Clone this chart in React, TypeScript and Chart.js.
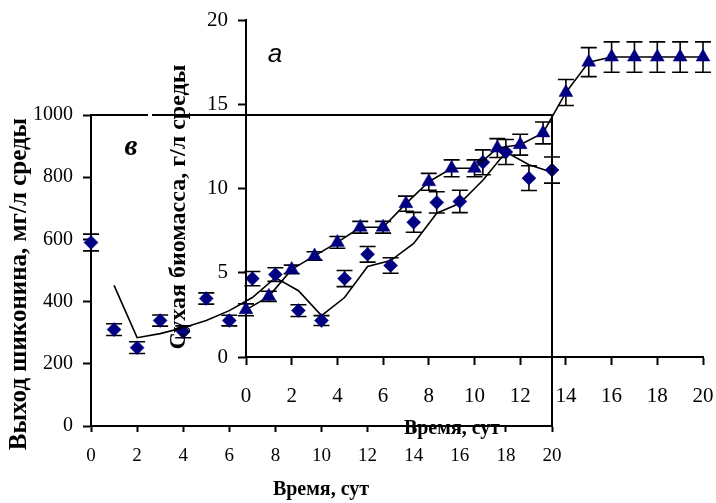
import React, { useEffect, useRef } from 'react';
import { Chart, registerables } from 'chart.js';

Chart.register(...registerables);

// ---- data ----
const days = [0, 1, 2, 3, 4, 5, 6, 7, 8, 9, 10, 11, 12, 13, 14, 15, 16, 17, 18, 19, 20];
// panel "в": shikonin yield, mg/l medium
const shikonin = [590, 310, 252, 339, 303, 410, 339, 474, 487, 371, 339, 474, 552, 516, 655, 719, 722, 848, 881, 797, 823];
const shikoninErr = [27, 19, 19, 18, 19, 18, 17, 23, 22, 19, 16, 26, 25, 25, 32, 34, 36, 40, 40, 40, 42];
const shikoninTrend = [null, 452, 284, 297, 316, 339, 371, 413, 477, 435, 355, 413, 513, 532, 587, 684, 716, 790, 881, 840, 816];
// panel "а": dry biomass, g/l medium
const biomass = [2.8, 3.6, 5.2, 6.0, 6.8, 7.7, 7.7, 9.1, 10.4, 11.2, 11.2, 12.4, 12.6, 13.3, 15.7, 17.5, 17.8, 17.8, 17.8, 17.8, 17.8];
const biomassErr = [0.35, 0.3, 0.25, 0.25, 0.35, 0.35, 0.35, 0.45, 0.5, 0.5, 0.5, 0.56, 0.62, 0.65, 0.77, 0.86, 0.9, 0.9, 0.9, 0.9, 0.9];
// ticks
const dayTicks = [0, 2, 4, 6, 8, 10, 12, 14, 16, 18, 20];
const shikoninTicks = [0, 200, 400, 600, 800, 1000];
const biomassTicks = [0, 5, 10, 15, 20];

const NAVY = '#000080';
const SERIF = "'Liberation Serif', 'Times New Roman', serif";
const SANS = "'Liberation Sans', Arial, sans-serif";

const errorBarPlugin = {
  id: 'errorBars',
  beforeDatasetsDraw(chart: any, _args: any, opts: any) {
    if (!opts || !opts.values) return;
    const { ctx } = chart;
    const xs = chart.scales.x;
    const ys = chart.scales.y;
    const cap = opts.cap ?? 8;
    ctx.save();
    ctx.strokeStyle = '#000';
    ctx.lineWidth = opts.lineWidth ?? 1.6;
    for (let i = 0; i < opts.values.length; i++) {
      const v = opts.values[i];
      const e = opts.errors[i];
      const px = xs.getPixelForValue(opts.xs[i]);
      const top = ys.getPixelForValue(v + e);
      const bot = ys.getPixelForValue(v - e);
      ctx.beginPath();
      ctx.moveTo(px, top);
      ctx.lineTo(px, bot);
      ctx.moveTo(px - cap, top);
      ctx.lineTo(px + cap, top);
      ctx.moveTo(px - cap, bot);
      ctx.lineTo(px + cap, bot);
      ctx.stroke();
    }
    ctx.restore();
  },
};

const framePlugin = {
  id: 'frame',
  afterDraw(chart: any, _args: any, opts: any) {
    if (!opts || !opts.show) return;
    const { ctx, chartArea: a } = chart;
    ctx.save();
    ctx.strokeStyle = '#000';
    ctx.lineWidth = 2;
    ctx.beginPath();
    const gap = opts.gap as number[] | undefined;
    if (gap) {
      ctx.moveTo(a.left - 1, a.top);
      ctx.lineTo(gap[0], a.top);
      ctx.moveTo(gap[1], a.top);
      ctx.lineTo(a.right, a.top);
    } else {
      ctx.moveTo(a.left - 1, a.top);
      ctx.lineTo(a.right, a.top);
    }
    ctx.moveTo(a.right, a.top - 1);
    ctx.lineTo(a.right, a.bottom);
    ctx.stroke();
    ctx.restore();
  },
};

const textPlugin = {
  id: 'texts',
  afterDraw(chart: any, _args: any, opts: any) {
    if (!opts || !opts.items) return;
    const { ctx } = chart;
    for (const it of opts.items) {
      ctx.save();
      ctx.font = it.font;
      ctx.fillStyle = '#000';
      ctx.textAlign = 'center';
      ctx.textBaseline = 'middle';
      ctx.translate(it.x, it.y);
      if (it.rotate) ctx.rotate(it.rotate);
      ctx.fillText(it.text, 0, 0);
      ctx.restore();
    }
  },
};

function noPad(s: any) {
  s.paddingLeft = 0;
  s.paddingRight = 0;
  s.paddingTop = 0;
  s.paddingBottom = 0;
}

function axisCommon(tickLength: number, fontSize: number, padding: number) {
  return {
    type: 'linear' as const,
    grid: {
      drawOnChartArea: false,
      drawTicks: true,
      tickLength,
      tickColor: '#000',
      tickWidth: 2,
    },
    border: { display: true, color: '#000', width: 2 },
    ticks: {
      color: '#000',
      padding,
      font: { family: SERIF, size: fontSize },
      callback: (v: any) => String(v),
    },
  };
}

export default function App() {
  const backRef = useRef<HTMLCanvasElement>(null);
  const frontRef = useRef<HTMLCanvasElement>(null);

  useEffect(() => {
    const back = new Chart(backRef.current as HTMLCanvasElement, {
      type: 'line',
      data: {
        datasets: [
          {
            label: 'Выход шиконина',
            data: days.map((d, i) => ({ x: d, y: shikonin[i] })),
            showLine: false,
            pointStyle: 'rectRot',
            pointRadius: 7,
            pointBackgroundColor: NAVY,
            pointBorderColor: NAVY,
            pointBorderWidth: 0.5,
            clip: false,
          },
          {
            label: 'тренд',
            data: days
              .map((d, i) => ({ x: d, y: shikoninTrend[i] }))
              .filter((p) => p.y !== null) as any,
            borderColor: '#000',
            borderWidth: 1.6,
            pointRadius: 0,
            tension: 0,
            fill: false,
            clip: false,
          },
        ],
      },
      options: {
        animation: false,
        responsive: false,
        devicePixelRatio: 1,
        layout: { padding: { left: 0, top: 115, right: 164, bottom: 0 } },
        plugins: {
          legend: { display: false },
          tooltip: { enabled: false },
          errorBars: { values: shikonin, errors: shikoninErr, xs: days, cap: 8 },
          frame: { show: true, gap: [148, 152] },
          texts: {
            items: [
              { text: 'Выход шиконина, мг/л среды', x: 20, y: 284, font: `bold 25px ${SERIF}`, rotate: -Math.PI / 2 },
              { text: 'Время, сут', x: 321, y: 490, font: `bold 20px ${SERIF}` },
              { text: 'в', x: 131, y: 148, font: `italic bold 29px ${SERIF}` },
            ],
          },
        } as any,
        scales: {
          x: {
            ...axisCommon(6, 19, 13),
            min: 0,
            max: 20,
            afterBuildTicks: (s: any) => {
              s.ticks = dayTicks.map((v) => ({ value: v }));
            },
            afterFit: (s: any) => {
              s.height = 77;
              noPad(s);
            },
          },
          y: {
            ...axisCommon(8, 20, 10),
            min: 0,
            max: 1000,
            afterBuildTicks: (s: any) => {
              s.ticks = shikoninTicks.map((v) => ({ value: v }));
            },
            afterFit: (s: any) => {
              s.width = 91;
              noPad(s);
            },
          },
        } as any,
      },
      plugins: [errorBarPlugin, framePlugin, textPlugin],
    });

    const front = new Chart(frontRef.current as HTMLCanvasElement, {
      type: 'line',
      data: {
        datasets: [
          {
            label: 'Сухая биомасса',
            data: days.map((d, i) => ({ x: d, y: biomass[i] })),
            borderColor: '#000',
            borderWidth: 1.6,
            pointStyle: 'triangle',
            pointRadius: 8,
            pointBackgroundColor: NAVY,
            pointBorderColor: NAVY,
            pointBorderWidth: 0.5,
            tension: 0,
            fill: false,
            clip: false,
          },
        ],
      },
      options: {
        animation: false,
        responsive: false,
        devicePixelRatio: 1,
        layout: { padding: { left: 0, top: 20, right: 13, bottom: 0 } },
        plugins: {
          legend: { display: false },
          tooltip: { enabled: false },
          errorBars: { values: biomass, errors: biomassErr, xs: days, cap: 8 },
          frame: { show: false },
          texts: {
            items: [
              { text: 'Сухая биомасса, г/л среды', x: 179, y: 207, font: `bold 24px ${SERIF}`, rotate: -Math.PI / 2 },
              { text: 'Время, сут', x: 452, y: 429, font: `bold 20px ${SERIF}` },
              { text: 'а', x: 275, y: 55, font: `italic 26px ${SANS}` },
            ],
          },
        } as any,
        scales: {
          x: {
            ...axisCommon(8, 21, 19),
            min: 0,
            max: 20,
            afterBuildTicks: (s: any) => {
              s.ticks = dayTicks.map((v) => ({ value: v }));
            },
            afterFit: (s: any) => {
              s.height = 146;
              noPad(s);
            },
          },
          y: {
            ...axisCommon(8, 21, 10),
            min: 0,
            max: 20,
            afterBuildTicks: (s: any) => {
              s.ticks = biomassTicks.map((v) => ({ value: v }));
            },
            afterFit: (s: any) => {
              s.width = 246;
              noPad(s);
            },
          },
        } as any,
      },
      plugins: [errorBarPlugin, framePlugin, textPlugin],
    });

    return () => {
      back.destroy();
      front.destroy();
    };
  }, []);

  return (
    <div style={{ position: 'absolute', left: 0, top: 0, width: 716, height: 503, background: '#fff' }}>
      <canvas ref={backRef} width={716} height={503} style={{ position: 'absolute', left: 0, top: 0 }} />
      <canvas ref={frontRef} width={716} height={503} style={{ position: 'absolute', left: 0, top: 0 }} />
    </div>
  );
}
